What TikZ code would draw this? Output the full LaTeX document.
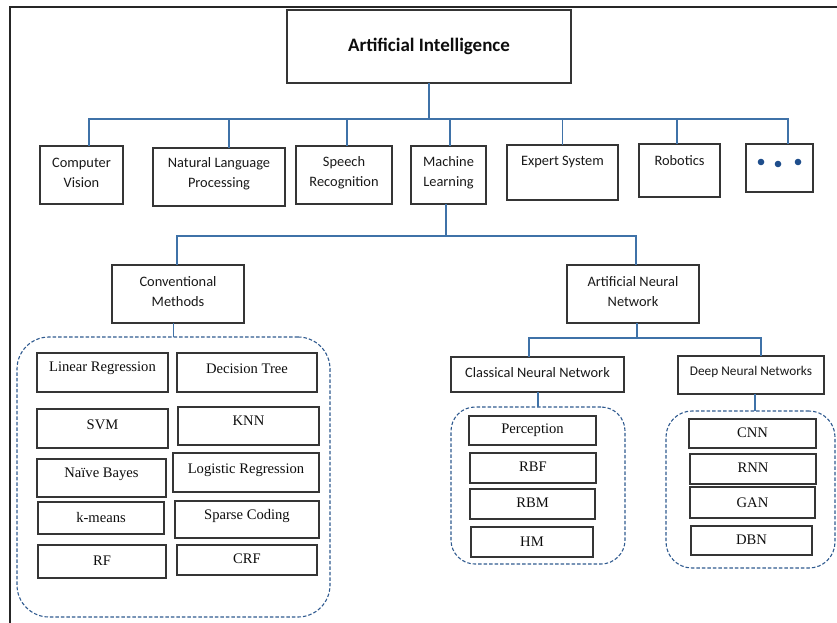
\documentclass[tikz,border=0pt]{standalone}
\usepackage{fontspec}
\setmainfont{Liberation Serif}
\newfontfamily\sansface{Carlito}
\usetikzlibrary{calc}

% #1 text shift, #2 label style, #3 name, #4 x1, #5 y1, #6 x2, #7 y2, #8 text
\newcommand\placebox[8][0]{%
  \node[box, minimum width={(#6)-(#4)}, minimum height={(#7)-(#5)},
        label={[#2,yshift=#1]center:#8}] (#3) at ({((#4)+(#6))/2},{-((#5)+(#7))/2}) {};}
% #1 corner radius, #2 name, #3 x1, #4 y1, #5 x2, #6 y2
\newcommand\placegroup[6]{%
  \node[grp, rounded corners=#1, minimum width={(#5)-(#3)}, minimum height={(#6)-(#4)}]
        (#2) at ({((#3)+(#5))/2},{-((#4)+(#6))/2}) {};}

\definecolor{connblue}{HTML}{3F72A8}
\definecolor{grpblue}{HTML}{2F5A8F}
\definecolor{dotblue}{HTML}{1F4E8C}
\definecolor{edge}{HTML}{353535}

\begin{document}
\begin{tikzpicture}[x=1pt,y=1pt,
  box/.style={draw=edge, line width=1.1pt, inner sep=0pt, outer sep=0pt},
  sans/.style={font=\sansface\fontsize{14.4}{20}\selectfont, align=center, text=black!90},
  sanssm/.style={font=\sansface\fontsize{13.3}{18}\selectfont, align=center, text=black!90},
  title/.style={font=\sansface\bfseries\fontsize{19}{22}\selectfont, text=black!95},
  serif/.style={font=\fontsize{14.6}{17}\selectfont, text=black!95},
  grp/.style={draw=grpblue, line width=1.1pt, dash pattern=on 3.5pt off 2pt, inner sep=0pt, outer sep=0pt},
  conn/.style={draw=connblue, line width=1.3pt}]
\useasboundingbox (0,0) rectangle (837,-623);

% frame edges
\draw[line width=1.2pt, black!85] (10,-623) -- (10,-7) -- (837,-7);

% root
\placebox{title}{ai}{287}{10}{571}{83}{Artificial Intelligence}

% first level
\placebox[2]{sans}{cv}{40}{146}{123}{204}{Computer\\Vision}
\placebox[3]{sans}{nlp}{153}{148}{285}{206}{Natural Language\\Processing}
\placebox[2]{sans}{sr}{296}{146}{392}{204}{Speech\\Recognition}
\placebox[2]{sans}{ml}{411}{146}{486}{204}{Machine\\Learning}
\placebox[11]{sans}{es}{507}{145}{618}{200}{Expert System}
\placebox[10]{sans}{rob}{639}{144}{720}{197}{Robotics}
\placebox{sans}{more}{746}{144}{813}{192}{}
\fill[dotblue] (761,-162) circle (3.3) (778,-164) circle (3.3) (798,-162) circle (3.3);

\coordinate (bus1) at ([yshift=-36pt]ai.south);
\draw[conn] (ai.south) -- (bus1);
\draw[conn] ([xshift=7.5pt]cv.north) |- (bus1) -| ([xshift=8.5pt]more.north);
\draw[conn] ([xshift=10pt]nlp.north) -- ([xshift=10pt]nlp.north |- bus1);
\draw[conn] ([xshift=3pt]sr.north) -- ([xshift=3pt]sr.north |- bus1);
\draw[conn] ([xshift=1.5pt]ml.north) -- ([xshift=1.5pt]ml.north |- bus1);
\draw[conn] (es.north) -- (es.north |- bus1);
\draw[conn] ([xshift=-2.5pt]rob.north) -- ([xshift=-2.5pt]rob.north |- bus1);

% machine learning branches
\placebox[2.5]{sans}{cm}{112}{265}{244}{323}{Conventional\\Methods}
\placebox[2.5]{sans}{ann}{567}{265}{699}{323}{Artificial Neural\\Network}
\coordinate (bus2) at ([xshift=-2.5pt,yshift=-32pt]ml.south);
\draw[conn] ([xshift=-2.5pt]ml.south) -- (bus2);
\draw[conn] ([xshift=-1pt]cm.north) |- (bus2) -| ([xshift=3pt]ann.north);

% conventional methods
\placegroup{32pt}{cmg}{17}{337}{330}{617}
\draw[conn] (cmg.north) -- (cmg.north |- cm.south);
\placebox[4]{serif}{lr}{37}{353}{168}{392}{Linear Regression}
\placebox[4]{serif}{dt}{177}{353}{317}{392}{Decision Tree}
\placebox[4]{serif}{svm}{37}{409}{168}{448}{SVM}
\placebox[5]{serif}{knn}{178}{407}{319}{445}{KNN}
\placebox[4]{serif}{nb}{37}{459}{166}{497}{Naïve Bayes}
\placebox[2.5]{serif}{logr}{173}{453}{319}{492}{Logistic Regression}
\placebox[1]{serif}{km}{38}{502}{164}{534}{k-means}
\placebox[3]{serif}{sc}{175}{501}{319}{538}{Sparse Coding}
\placebox[0.5]{serif}{rf}{38}{545}{166}{578}{RF}
\placebox[1]{serif}{crf}{177}{545}{317}{575}{CRF}

% neural networks
\placebox[1.5]{sans}{cnn}{451}{357}{624}{392}{Classical Neural Network}
\placebox[3]{sanssm}{dnn}{678}{356}{824}{394}{Deep Neural Networks}
\coordinate (bus3) at ([xshift=4pt,yshift=-15pt]ann.south);
\draw[conn] ([xshift=4pt]ann.south) -- (bus3);
\draw[conn] ([xshift=-8.5pt]cnn.north) |- (bus3) -| ([xshift=10pt]dnn.north);

\placegroup{24pt}{cng}{451}{407}{625}{564}
\draw[conn] (cng.north) -- (cng.north |- cnn.south);
\placebox[0.5]{serif}{perc}{469}{416}{596}{445}{Perception}
\placebox[1]{serif}{rbf}{470}{453}{596}{483}{RBF}
\placebox[1]{serif}{rbm}{470}{489}{595}{519}{RBM}
\placebox[0.5]{serif}{hm}{471}{527}{593}{557}{HM}

\placegroup{26pt}{dng}{666}{411}{835}{568}
\draw[conn] ([xshift=4pt]dnn.south) -- ([xshift=4pt]dnn.south |- dng.north);
\placebox[0.5]{serif}{cnnb}{689}{419}{816}{448}{CNN}
\placebox[1]{serif}{rnn}{690}{454}{816}{484}{RNN}
\placebox[0]{serif}{gan}{690}{487}{815}{518}{GAN}
\placebox[0.5]{serif}{dbn}{691}{526}{812}{555}{DBN}
\end{tikzpicture}
\end{document}
